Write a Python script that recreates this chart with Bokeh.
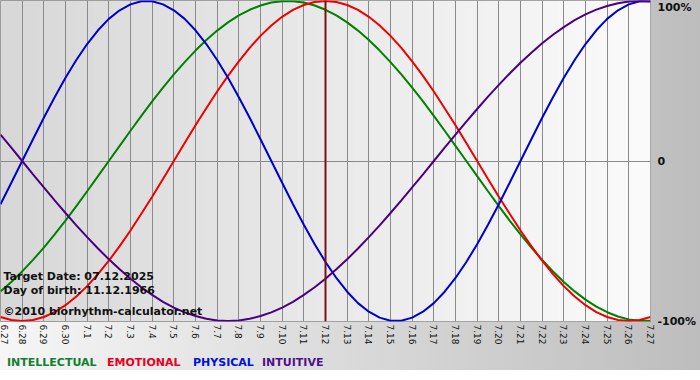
import math
import numpy as np
from bokeh.plotting import figure
from bokeh.layouts import column
from bokeh.models import FixedTicker, Label, Span, Range1d, Div
from bokeh.embed import file_html
from bokeh.resources import INLINE

# ---- data: values every half day, 6.27 .. 7.27 ----
dates = ["6.27", "6.28", "6.29", "6.30", "7.1", "7.2", "7.3", "7.4", "7.5", "7.6",
         "7.7", "7.8", "7.9", "7.10", "7.11", "7.12", "7.13", "7.14", "7.15", "7.16",
         "7.17", "7.18", "7.19", "7.20", "7.21", "7.22", "7.23", "7.24", "7.25", "7.26",
         "7.27"]

physical = [-0.270, -0.136, 0.000, 0.136, 0.270, 0.398, 0.520, 0.631, 0.731, 0.817,
            0.888, 0.942, 0.979, 0.998, 0.998, 0.979, 0.942, 0.888, 0.817, 0.731,
            0.631, 0.520, 0.398, 0.270, 0.136, 0.000, -0.136, -0.270, -0.398, -0.520,
            -0.631, -0.731, -0.817, -0.888, -0.942, -0.979, -0.998, -0.998, -0.979, -0.942,
            -0.888, -0.817, -0.731, -0.631, -0.520, -0.398, -0.270, -0.136, 0.000, 0.136,
            0.270, 0.398, 0.520, 0.631, 0.731, 0.817, 0.888, 0.942, 0.979, 0.998,
            0.998]
emotional = [-0.975, -0.994, -1.000, -0.994, -0.975, -0.944, -0.901, -0.847, -0.782, -0.707,
             -0.623, -0.532, -0.434, -0.330, -0.223, -0.112, 0.000, 0.112, 0.223, 0.330,
             0.434, 0.532, 0.623, 0.707, 0.782, 0.847, 0.901, 0.944, 0.975, 0.994,
             1.000, 0.994, 0.975, 0.944, 0.901, 0.847, 0.782, 0.707, 0.623, 0.532,
             0.434, 0.330, 0.223, 0.112, 0.000, -0.112, -0.223, -0.330, -0.434, -0.532,
             -0.623, -0.707, -0.782, -0.847, -0.901, -0.944, -0.975, -0.994, -1.000, -0.994,
             -0.975]
intellectual = [-0.815, -0.756, -0.690, -0.618, -0.541, -0.458, -0.372, -0.282, -0.189, -0.095,
                0.000, 0.095, 0.189, 0.282, 0.372, 0.458, 0.541, 0.618, 0.690, 0.756,
                0.815, 0.866, 0.910, 0.945, 0.972, 0.990, 0.999, 0.999, 0.990, 0.972,
                0.945, 0.910, 0.866, 0.815, 0.756, 0.690, 0.618, 0.541, 0.458, 0.372,
                0.282, 0.189, 0.095, 0.000, -0.095, -0.189, -0.282, -0.372, -0.458, -0.541,
                -0.618, -0.690, -0.756, -0.815, -0.866, -0.910, -0.945, -0.972, -0.990, -0.999,
                -0.999]
intuitive = [0.165, 0.083, 0.000, -0.083, -0.165, -0.246, -0.325, -0.402, -0.476, -0.547,
             -0.614, -0.677, -0.736, -0.789, -0.837, -0.880, -0.916, -0.946, -0.969, -0.986,
             -0.997, -1.000, -0.997, -0.986, -0.969, -0.946, -0.916, -0.880, -0.837, -0.789,
             -0.736, -0.677, -0.614, -0.547, -0.476, -0.402, -0.325, -0.246, -0.165, -0.083,
             0.000, 0.083, 0.165, 0.246, 0.325, 0.402, 0.476, 0.547, 0.614, 0.677,
             0.736, 0.789, 0.837, 0.880, 0.916, 0.946, 0.969, 0.986, 0.997, 1.000,
             0.997]

series_names = ["INTELLECTUAL", "EMOTIONAL", "PHYSICAL", "INTUITIVE"]
series_colors = ["#008000", "#ee0000", "#0000cc", "#4b0082"]
legend_colors = ["#108030", "#e8001c", "#0010e0", "#50108a"]
target_day = "7.12"
info_lines = ["Target Date: 07.12.2025", "Day of birth: 11.12.1966",
              "\u00a92010 biorhythm-calculator.net"]
y_labels = {1: "100%\n", 0: "0", -1: "-100%"}

days = list(range(len(dates)))
n = len(dates) - 1
steps_per_day = (len(physical) - 1) // n
xs = [i / steps_per_day for i in range(len(physical))]
YPAD = 1.003

p = figure(width=700, height=350, output_backend="svg", toolbar_location=None,
           x_range=Range1d(0, n), y_range=Range1d(-YPAD, YPAD),
           y_axis_location="right",
           min_border_left=0, min_border_top=0, min_border_right=50, min_border_bottom=29)
p.border_fill_color = None
p.background_fill_color = "#e8e8e8"
p.outline_line_color = "#888888"
p.outline_line_width = 1

# plot-area horizontal gradient
W = 650
grad = np.linspace(216, 251, W).astype(np.uint8)
img = np.zeros((1, W), dtype=np.uint32)
view = img.view(dtype=np.uint8).reshape((1, W, 4))
view[0, :, 0] = grad
view[0, :, 1] = grad
view[0, :, 2] = grad
view[0, :, 3] = 255
p.image_rgba(image=[img], x=0, y=-YPAD, dw=n, dh=2 * YPAD, level="image")

# grids
p.xgrid.ticker = FixedTicker(ticks=days)
p.xgrid.grid_line_color = "#8a8a8a"
p.xgrid.grid_line_width = 1
p.ygrid.ticker = FixedTicker(ticks=[0])
p.ygrid.grid_line_color = "#8a8a8a"

# x axis
xa = p.xaxis[0]
xa.ticker = FixedTicker(ticks=days)
xa.major_label_overrides = {i: d for i, d in enumerate(dates)}
xa.major_label_orientation = -math.pi / 2
xa.major_label_text_font = "DejaVu Sans"
xa.major_label_text_font_size = "9px"
xa.major_label_text_color = "#111111"
xa.major_label_standoff = 3
xa.major_tick_out = 0
xa.major_tick_in = 0
xa.axis_line_color = None
xa.major_tick_line_color = None
xa.minor_tick_line_color = None

# right axis
ya = p.yaxis[0]
ya.ticker = FixedTicker(ticks=[-1, 0, 1])
ya.major_label_overrides = y_labels
ya.major_label_text_font = "DejaVu Sans"
ya.major_label_text_font_style = "bold"
ya.major_label_text_font_size = "11px"
ya.major_label_text_color = "#111111"
ya.major_label_standoff = 7
ya.major_tick_out = 0
ya.major_tick_in = 0
ya.axis_line_color = None
ya.major_tick_line_color = None
ya.minor_tick_line_color = None

# curves
for vals, col in zip([intellectual, emotional, physical, intuitive], series_colors):
    p.line(xs, vals, line_color=col, line_width=2)

# target date marker
p.add_layout(Span(location=dates.index(target_day), dimension="height",
                  line_color="#7a1212", line_width=2))

# info text
for txt, yy in zip(info_lines, [45, 31, 10]):
    p.add_layout(Label(x=3, y=yy, x_units="screen", y_units="screen", text=txt,
                       text_font="DejaVu Sans", text_font_style="bold", text_font_size="11px",
                       text_color="#111111", text_baseline="alphabetic"))

# legend text below the chart
widths = [100, 86, 69, 90]
spans = "".join(
    f'<span style="display:inline-block;width:{w}px;color:{c}">{t}</span>'
    for t, c, w in zip(series_names, legend_colors, widths))
legend = Div(text=f'<div style="padding-left:7px;padding-top:6px;white-space:nowrap;'
                  f'font-family:\'DejaVu Sans\';font-weight:bold;font-size:11px;'
                  f'line-height:13px">{spans}</div>',
             width=700, height=20, margin=0)

layout = column(p, legend, spacing=0, width=700, height=370)
layout.styles = {"background": "linear-gradient(to right, #f6f6f6, #bdbdbd)"}

open("out.html", "w").write(file_html(layout, INLINE))
